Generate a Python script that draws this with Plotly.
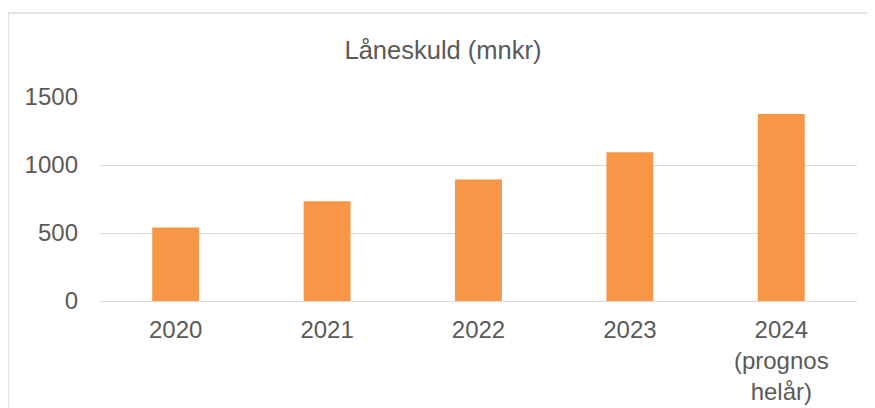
import plotly.graph_objects as go

categories = ["2020", "2021", "2022", "2023", "2024<br>(prognos<br>helår)"]
values = [540, 733, 893, 1093, 1375]
y_ticks = [0, 500, 1000, 1500]
title_text = "Låneskuld (mnkr)"

W, H = 875, 408
OFF = 8  # page body margin
L, R, T, B = 100 - OFF, 18 + OFF, 97 - OFF, 107 + OFF

fig = go.Figure(go.Bar(
    x=categories, y=values,
    marker=dict(color="#F79646", line=dict(width=0)),
    width=0.31,
    hoverinfo="skip",
))

font_family = "Liberation Sans, Arial, sans-serif"
pw = W - L - R
ph = H - T - B

fig.update_layout(
    width=W, height=H,
    margin=dict(l=L, r=R, t=T, b=B, pad=0),
    paper_bgcolor="white", plot_bgcolor="white",
    showlegend=False,
    font=dict(family=font_family, color="#595959", size=24),
    title=dict(text=title_text, x=(443 - OFF) / W, xref="container",
               y=1 - (50 - OFF) / H, yref="container", xanchor="center", yanchor="middle",
               font=dict(size=25.5, color="#595959", family=font_family)),
    xaxis=dict(showgrid=False, showline=False, zeroline=False, ticks="",
               tickfont=dict(size=24, color="#595959"), ticklabelstandoff=12),
    yaxis=dict(range=[0, 1500], tickvals=y_ticks, showgrid=True, gridcolor="#D9D9D9",
               gridwidth=1, zeroline=True, zerolinecolor="#D9D9D9", zerolinewidth=1,
               showline=False, ticks="", tickfont=dict(size=24, color="#595959"),
               ticklabelstandoff=21),
    shapes=[
        dict(type="line", xref="paper", yref="paper",
             x0=(8 - 100) / pw, x1=(W + 20 - 100) / pw,
             y0=(301 - 13) / ph, y1=(301 - 13) / ph,
             line=dict(color="#D9D9D9", width=1.5)),
        dict(type="line", xref="paper", yref="paper",
             x0=(8 - 100) / pw, x1=(8 - 100) / pw,
             y0=(301 - 13) / ph, y1=(301 - 420) / ph,
             line=dict(color="#D9D9D9", width=1.5)),
    ],
)

fig.write_html("out.html")
